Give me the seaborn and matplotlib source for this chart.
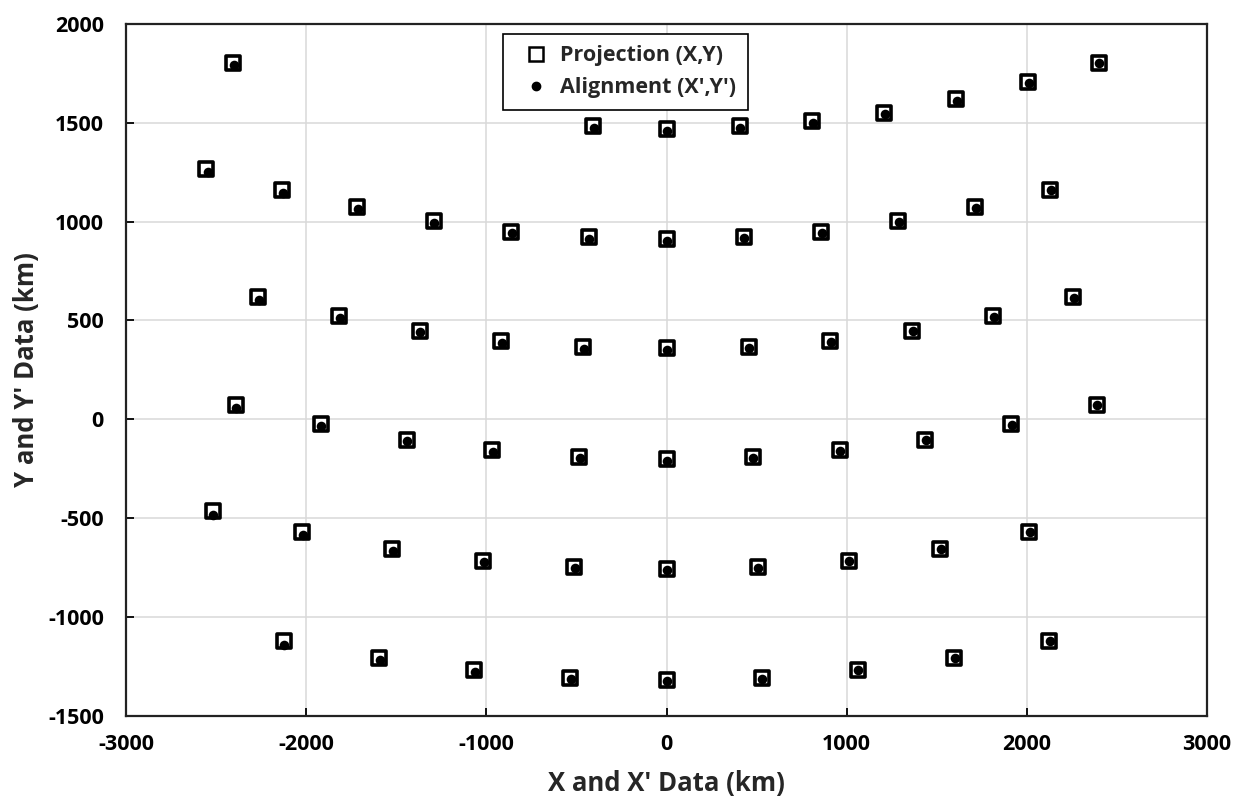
import numpy as np
import pandas as pd
import matplotlib
matplotlib.use("Agg")
import matplotlib.pyplot as plt
import seaborn as sns

# Projection (X,Y) points, km
proj_x = [-2404, -409, 0, 406, 809, 1206, 1609, 2007, 2398,
          -2554, -2135, -1717, -1293, -863, -432, 0, 428, 859, 1285, 1711, 2130,
          -2265, -1818, -1370, -917, -461, 0, 456, 909, 1363, 1813, 2257,
          -2389, -1920, -1443, -967, -483, 0, 478, 961, 1435, 1913, 2391,
          -2517, -2021, -1521, -1017, -511, 0, 506, 1011, 1517, 2013,
          -2122, -1594, -1067, -535, 0, 528, 1061, 1596, 2124]
proj_y = [1803, 1482, 1468, 1482, 1507, 1551, 1620, 1705, 1803,
          1264, 1158, 1072, 1001, 948, 920, 911, 921, 948, 1001, 1072, 1160,
          619, 520, 449, 395, 363, 358, 363, 395, 449, 520, 619,
          74, -25, -103, -157, -189, -203, -189, -155, -103, -25, 74,
          -466, -570, -655, -716, -748, -759, -748, -716, -655, -570,
          -1124, -1208, -1268, -1308, -1320, -1308, -1268, -1208, -1124]

# Alignment (X',Y') points, km
align_x = [-2398, -404, 2, 410, 812, 1210, 1612, 2010, 2400,
           -2547, -2129, -1712, -1289, -859, -428, 2, 432, 863, 1290, 1716, 2136,
           -2260, -1813, -1366, -913, -458, 1, 459, 913, 1367, 1817, 2259,
           -2389, -1916, -1439, -963, -480, 1, 481, 965, 1439, 1917, 2392,
           -2517, -2019, -1518, -1014, -508, 1, 509, 1015, 1521, 2016,
           -2122, -1591, -1064, -532, 1, 531, 1065, 1600, 2128]
align_y = [1790, 1472, 1460, 1474, 1500, 1545, 1612, 1700, 1800,
           1252, 1147, 1062, 993, 940, 913, 904, 915, 944, 997, 1068, 1158,
           604, 510, 441, 388, 357, 352, 358, 391, 446, 517, 615,
           56, -36, -112, -164, -195, -210, -194, -159, -106, -27, 73,
           -485, -585, -665, -724, -754, -765, -752, -719, -657, -571,
           -1144, -1220, -1278, -1315, -1326, -1312, -1271, -1210, -1122]

x_ticks = [-3000, -2000, -1000, 0, 1000, 2000, 3000]
y_ticks = [-1500, -1000, -500, 0, 500, 1000, 1500, 2000]

df_proj = pd.DataFrame({"x": proj_x, "y": proj_y})
df_align = pd.DataFrame({"x": align_x, "y": align_y})

sns.set_style("white")
plt.rcParams["font.family"] = ["Open Sans", "DejaVu Sans"]
plt.rcParams["axes.unicode_minus"] = False

fig = plt.figure(figsize=(12.4, 7.98), dpi=100)
ax = fig.add_axes([0.1016, 0.1031, 0.8718, 0.8669])

sns.scatterplot(data=df_proj, x="x", y="y", ax=ax, marker="s", s=105,
                facecolor="white", edgecolor="black", linewidth=2.6, zorder=3)
sns.scatterplot(data=df_align, x="x", y="y", ax=ax, marker="o", s=48,
                color="black", edgecolor="black", linewidth=0, zorder=4)

ax.set_xlim(-3000, 3000)
ax.set_ylim(-1500, 2000)
ax.set_xticks(x_ticks)
ax.set_yticks(y_ticks)
ax.grid(True, color="#d9d9d9", linewidth=1.1, zorder=0)
ax.set_axisbelow(True)

for side in ["left", "bottom", "top", "right"]:
    ax.spines[side].set_visible(True)
    ax.spines[side].set_color("#222222")
    ax.spines[side].set_linewidth(1.6)

ax.tick_params(axis="both", direction="in", length=6, width=1.3, colors="black",
               labelsize=15.5, left=True, bottom=True)
ax.tick_params(axis="y", pad=16)
ax.tick_params(axis="x", pad=13)
for lab in ax.get_xticklabels() + ax.get_yticklabels():
    lab.set_fontweight("bold")

ax.set_xlabel("X and X' Data (km)", fontsize=18.5, fontweight="bold", labelpad=11)
ax.set_ylabel("Y and Y' Data (km)", fontsize=18.5, fontweight="bold", labelpad=6)

h1 = plt.Line2D([], [], linestyle="none", marker="s", markersize=10,
                markerfacecolor="white", markeredgecolor="black", markeredgewidth=1.8)
h2 = plt.Line2D([], [], linestyle="none", marker="o", markersize=6,
                markerfacecolor="black", markeredgecolor="black")
leg = ax.legend([h1, h2], ["Projection (X,Y)", "Alignment (X',Y')"],
                loc="upper left", bbox_to_anchor=(0.3488, 0.986),
                frameon=True, fancybox=False, framealpha=1,
                prop={"weight": "bold", "size": 15.5}, handletextpad=0.1,
                borderpad=0.55, labelspacing=0.5, handlelength=2.0,
                borderaxespad=0)
leg.get_frame().set_edgecolor("black")
leg.get_frame().set_linewidth(1.2)

plt.savefig("out.png", dpi=100)
